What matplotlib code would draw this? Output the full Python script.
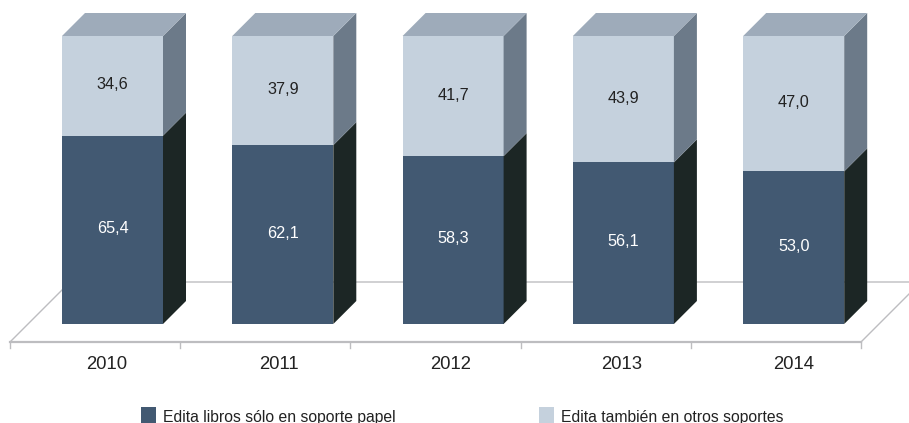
import matplotlib
matplotlib.use('Agg')
import matplotlib.pyplot as plt
from matplotlib.patches import Polygon

plt.rcParams['font.family'] = ['Liberation Sans', 'DejaVu Sans']

years = ['2010', '2011', '2012', '2013', '2014']
papel = [65.4, 62.1, 58.3, 56.1, 53.0]
otros = [34.6, 37.9, 41.7, 43.9, 47.0]
names = ['Edita libros sólo en soporte papel', 'Edita también en otros soportes']

DARK = '#425972'
LIGHT = '#c5d1dd'
TOP = '#9eabba'
SIDE_LIGHT = '#6c7a89'
SIDE_DARK = '#1c2625'
LINE = '#bdbdc0'

W, H = 909, 423
step = 170.3     # px per category
unit = 2.88      # px per percent
x0 = 112.5       # px of first category
y0 = 324         # px of value 0

f = plt.figure(figsize=(W / 100, H / 100), dpi=100)
ax = f.add_axes([0, 0, 1, 1])
ax.set_xlim(-x0 / step, (W - x0) / step)
ax.set_ylim(-(H - y0) / unit, y0 / unit)
ax.axis('off')

# depth of the fake 3d, in data units
dx = 23 / step
dy = 23 / unit
bw = 101 / step

# floor
fl = -18 / unit
left = (10 - x0) / step
right = (861 - x0) / step
back = fl + 60 / unit
shift = 60 / step
ax.plot([left, left + shift, right + shift], [fl, back, back], color=LINE, lw=1, zorder=1)
ax.plot([right, right + shift], [fl, back], color=LINE, lw=1, zorder=1)
ax.plot([left, right], [fl, fl], color=LINE, lw=1.6, zorder=1)
for i in range(len(years) + 1):
    xt = left + i * (right - left) / len(years)
    ax.plot([xt, xt], [fl, fl - 6 / unit], color=LINE, lw=1, zorder=1)

for i, year in enumerate(years):
    a = papel[i]
    b = otros[i]
    l = i - bw / 2
    r = i + bw / 2
    ax.bar(i, a, bw, color=DARK, zorder=3)
    ax.bar(i, b, bw, bottom=a, color=LIGHT, zorder=3)
    ax.add_patch(Polygon([(r, 0), (r + dx, dy), (r + dx, a + dy), (r, a)], color=SIDE_DARK, lw=0, zorder=3))
    ax.add_patch(Polygon([(r, a), (r + dx, a + dy), (r + dx, a + b + dy), (r, a + b)], color=SIDE_LIGHT, lw=0, zorder=3))
    ax.add_patch(Polygon([(l, a + b), (l + dx, a + b + dy), (r + dx, a + b + dy), (r, a + b)], color=TOP, lw=0, zorder=3))
    ax.text(i, a / 2 + 0.5, ('%.1f' % a).replace('.', ','), color='white', fontsize=11.7, ha='center', va='center', zorder=4)
    ax.text(i, a + b / 2 + 0.3, ('%.1f' % b).replace('.', ','), color='#222222', fontsize=11.7, ha='center', va='center', zorder=4)
    ax.text(i - 0.033 + 0.008 * i, (y0 - 364) / unit, year, color='#222222', fontsize=13.3, ha='center', va='center')

# legend
leg_x = [(141 - x0) / step, (539 - x0) / step]
for lx, name, col in zip(leg_x, names, [DARK, LIGHT]):
    ax.add_patch(Polygon([(lx, (y0 - 407) / unit), (lx + 15 / step, (y0 - 407) / unit),
                          (lx + 15 / step, (y0 - 424) / unit), (lx, (y0 - 424) / unit)], color=col, lw=0))
    ax.text(lx + 22 / step, (y0 - 417) / unit, name, color='#222222', fontsize=11.3, ha='left', va='center')

f.savefig('out.png', dpi=100)
